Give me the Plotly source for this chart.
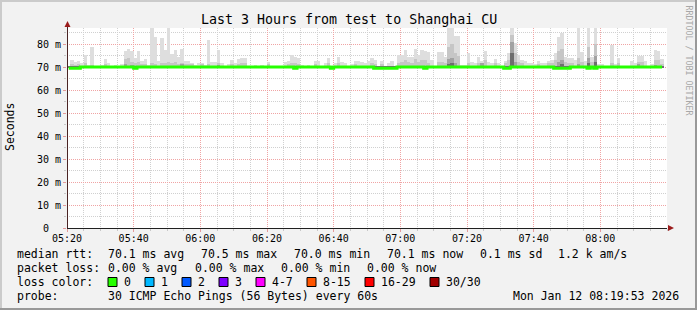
import plotly.graph_objects as go
import pandas as pd

# ---------------- data ----------------
title_text = "Last 3 Hours from test to Shanghai CU"
t_start = "2026-01-12 05:20:00"
t_end = "2026-01-12 08:20:00"
first_bin_center = "2026-01-12 05:20:30"
x_tick_values = ["2026-01-12 05:20", "2026-01-12 05:40", "2026-01-12 06:00", "2026-01-12 06:20",
                 "2026-01-12 06:40", "2026-01-12 07:00", "2026-01-12 07:20", "2026-01-12 07:40",
                 "2026-01-12 08:00"]
x_tick_labels = ["05:20", "05:40", "06:00", "06:20", "06:40", "07:00", "07:20", "07:40", "08:00"]

# median RTT per minute (ms)
median_rtt = [
    69.6, 69.6, 69.6, 69.6, 70.1, 70.1, 70.1, 70.1, 70.1, 70.1,
    70.1, 70.1, 70.1, 70.1, 70.1, 70.1, 70.1, 70.1, 70.1, 70.1,
    69.6, 70.1, 70.1, 70.1, 70.1, 70.1, 70.1, 70.1, 70.1, 70.1,
    70.1, 70.1, 70.1, 70.1, 70.1, 70.1, 70.1, 70.1, 70.1, 70.1,
    70.1, 70.1, 70.1, 70.1, 70.1, 70.1, 70.1, 70.1, 70.1, 70.1,
    70.1, 70.1, 70.1, 70.1, 70.1, 70.1, 70.1, 70.1, 70.1, 70.1,
    70.1, 70.1, 70.1, 70.1, 70.1, 70.1, 70.1, 70.1, 69.6, 70.1,
    70.1, 70.1, 70.1, 70.1, 70.1, 70.1, 70.1, 70.1, 70.1, 69.6,
    70.1, 70.1, 70.1, 70.1, 70.1, 70.1, 70.1, 70.1, 70.1, 70.1,
    70.1, 70.1, 69.6, 69.6, 69.6, 69.6, 69.6, 69.6, 69.6, 70.1,
    70.1, 70.1, 70.1, 70.1, 70.1, 70.1, 70.1, 69.6, 70.1, 70.1,
    70.1, 70.1, 70.1, 70.1, 70.1, 70.1, 70.1, 70.1, 70.1, 70.1,
    70.1, 70.1, 70.1, 70.1, 70.1, 70.1, 70.1, 70.1, 70.1, 70.1,
    70.1, 69.6, 69.6, 70.1, 70.1, 70.1, 70.1, 70.1, 70.1, 70.1,
    70.1, 70.1, 70.1, 70.1, 70.1, 70.1, 69.6, 69.6, 69.6, 69.6,
    69.6, 70.1, 70.1, 70.1, 70.1, 70.1, 69.6, 70.1, 69.6, 70.1,
    70.1, 70.1, 70.1, 70.1, 70.1, 70.1, 70.1, 70.1, 70.1, 70.1,
    70.1, 70.1, 70.1, 70.1, 70.1, 70.1, 70.1, 70.1, 70.1,
]

# smoke: highest ping per minute (ms)
smoke_max = [
    70.6, 73.2, 72.5, 72.8, 72.0, 75.4, 70.8, 78.8, 70.6, 70.6,
    70.8, 73.5, 71.7, 70.6, 71.0, 70.6, 71.5, 77.1, 78.0, 77.2,
    74.0, 77.2, 72.9, 73.5, 70.8, 88.0, 83.3, 72.7, 82.8, 77.5,
    88.0, 75.8, 77.5, 74.6, 78.0, 72.9, 72.8, 72.0, 71.0, 72.0,
    71.7, 70.8, 81.9, 72.5, 72.2, 77.5, 71.7, 70.6, 71.5, 73.2,
    71.7, 73.6, 74.0, 74.2, 70.6, 70.6, 71.0, 70.6, 71.0, 70.6,
    72.3, 70.6, 70.6, 70.6, 70.6, 72.5, 72.9, 75.4, 74.3, 74.2,
    71.0, 70.6, 71.0, 70.6, 72.8, 72.8, 70.6, 72.0, 74.1, 70.6,
    72.0, 74.6, 72.5, 71.7, 70.6, 71.3, 72.8, 72.8, 72.5, 72.0,
    72.8, 74.0, 73.2, 70.6, 72.8, 70.6, 72.0, 72.8, 70.6, 75.2,
    75.4, 77.5, 74.6, 74.3, 78.0, 75.4, 77.5, 77.2, 76.8, 73.2,
    70.6, 76.8, 76.8, 74.6, 88.0, 88.0, 83.6, 83.6, 71.0, 71.0,
    76.0, 72.5, 71.7, 74.3, 72.6, 77.0, 72.5, 71.7, 73.5, 71.7,
    70.6, 72.9, 76.0, 88.0, 80.4, 75.2, 73.2, 72.9, 71.7, 71.7,
    71.5, 72.8, 71.7, 72.0, 72.8, 73.2, 76.0, 83.3, 84.8, 74.6,
    73.9, 74.2, 73.2, 88.0, 76.8, 72.8, 88.0, 74.6, 88.0, 71.3,
    71.3, 70.6, 70.6, 79.7, 71.3, 73.9, 70.6, 70.6, 70.6, 72.8,
    71.7, 75.1, 75.1, 72.8, 70.6, 71.3, 77.5, 77.1, 73.5,
]

# smoke: upper quartile ping per minute (ms)
smoke_mid = [
    70.6, 71.5, 71.2, 71.5, 70.6, 71.8, 70.6, 71.2, 70.6, 70.6,
    70.6, 71.5, 70.6, 70.6, 70.6, 70.6, 70.6, 73.5, 74.0, 72.5,
    72.0, 72.5, 71.5, 71.5, 70.6, 72.0, 71.5, 70.6, 72.0, 71.8,
    72.5, 72.0, 72.5, 71.5, 72.0, 71.5, 71.5, 71.5, 70.6, 70.6,
    71.3, 70.6, 71.5, 70.6, 70.6, 71.8, 70.6, 70.6, 70.6, 71.5,
    70.6, 71.5, 72.0, 72.0, 70.6, 70.6, 70.6, 70.6, 70.6, 70.6,
    71.3, 70.6, 70.6, 70.6, 70.6, 70.6, 71.5, 72.0, 71.8, 71.5,
    70.6, 70.6, 70.6, 70.6, 71.5, 70.6, 70.6, 70.6, 71.8, 70.6,
    70.6, 71.8, 70.6, 70.6, 70.6, 70.6, 71.5, 70.6, 70.6, 70.6,
    70.6, 72.0, 71.5, 70.6, 71.5, 70.6, 70.6, 70.6, 70.6, 72.0,
    72.5, 73.0, 72.5, 72.0, 73.5, 72.5, 73.0, 73.0, 72.0, 70.6,
    70.6, 72.5, 72.5, 72.0, 79.0, 80.0, 76.0, 75.0, 70.6, 70.6,
    72.0, 70.6, 70.6, 72.0, 71.5, 73.0, 70.6, 70.6, 71.8, 70.6,
    70.6, 71.8, 73.0, 84.0, 76.0, 72.5, 71.8, 70.6, 70.6, 70.6,
    70.6, 71.5, 70.6, 70.6, 71.8, 72.0, 73.0, 77.0, 78.0, 72.5,
    72.0, 72.0, 70.6, 74.0, 72.5, 70.6, 79.0, 72.5, 80.0, 70.6,
    70.6, 70.6, 70.6, 72.0, 70.6, 72.0, 70.6, 70.6, 70.6, 70.6,
    70.6, 72.5, 72.5, 70.6, 70.6, 70.6, 73.0, 73.0, 71.5,
]

# smoke: darker inner band per minute (ms)
smoke_dark = [
    70.6, 70.6, 70.6, 70.6, 70.6, 70.6, 70.6, 70.6, 70.6, 70.6,
    70.6, 70.6, 70.6, 70.6, 70.6, 70.6, 70.6, 71.3, 70.6, 71.0,
    70.6, 70.6, 70.6, 70.6, 70.6, 70.6, 70.6, 70.6, 70.6, 70.6,
    70.6, 70.6, 70.6, 70.6, 71.5, 70.6, 70.6, 70.6, 70.6, 70.6,
    70.6, 70.6, 70.6, 70.6, 70.6, 71.2, 70.6, 70.6, 70.6, 70.6,
    70.6, 70.6, 70.6, 70.6, 70.6, 70.6, 70.6, 70.6, 70.6, 70.6,
    70.6, 70.6, 70.6, 70.6, 70.6, 70.6, 70.6, 70.6, 70.6, 70.6,
    70.6, 70.6, 70.6, 70.6, 70.6, 70.6, 70.6, 70.6, 70.6, 70.6,
    70.6, 70.6, 70.6, 70.6, 70.6, 70.6, 70.6, 70.6, 70.6, 70.6,
    70.6, 70.6, 70.6, 70.6, 70.6, 70.6, 70.6, 70.6, 70.6, 70.6,
    70.6, 70.6, 70.6, 70.6, 70.6, 70.6, 70.6, 70.6, 70.6, 70.6,
    70.6, 70.6, 70.6, 70.6, 73.5, 74.0, 72.0, 70.6, 70.6, 70.6,
    70.6, 70.6, 70.6, 70.6, 71.8, 70.6, 70.6, 70.6, 70.6, 70.6,
    70.6, 70.6, 70.6, 81.0, 72.5, 70.6, 70.6, 70.6, 70.6, 70.6,
    70.6, 70.6, 70.6, 70.6, 70.6, 70.6, 70.6, 72.5, 73.0, 70.6,
    70.6, 70.6, 70.6, 71.5, 70.6, 70.6, 74.0, 70.6, 75.0, 70.6,
    70.6, 70.6, 70.6, 70.6, 70.6, 70.6, 70.6, 70.6, 70.6, 70.6,
    70.6, 71.5, 70.6, 70.6, 70.6, 70.6, 71.2, 70.6, 70.6,
]

# smoke: darkest core band per minute (ms)
smoke_core = [
    70.6, 70.6, 70.6, 70.6, 70.6, 70.6, 70.6, 70.6, 70.6, 70.6,
    70.6, 70.6, 70.6, 70.6, 70.6, 70.6, 70.6, 70.6, 70.6, 70.6,
    70.6, 70.6, 70.6, 70.6, 70.6, 70.6, 70.6, 70.6, 70.6, 70.6,
    70.6, 70.6, 70.6, 70.6, 70.6, 70.6, 70.6, 70.6, 70.6, 70.6,
    70.6, 70.6, 70.6, 70.6, 70.6, 70.6, 70.6, 70.6, 70.6, 70.6,
    70.6, 70.6, 70.6, 70.6, 70.6, 70.6, 70.6, 70.6, 70.6, 70.6,
    70.6, 70.6, 70.6, 70.6, 70.6, 70.6, 70.6, 70.6, 70.6, 70.6,
    70.6, 70.6, 70.6, 70.6, 70.6, 70.6, 70.6, 70.6, 70.6, 70.6,
    70.6, 70.6, 70.6, 70.6, 70.6, 70.6, 70.6, 70.6, 70.6, 70.6,
    70.6, 70.6, 70.6, 70.6, 70.6, 70.6, 70.6, 70.6, 70.6, 70.6,
    70.6, 70.6, 70.6, 70.6, 70.6, 70.6, 70.6, 70.6, 70.6, 70.6,
    70.6, 70.6, 70.6, 70.6, 71.5, 72.0, 70.6, 70.6, 70.6, 70.6,
    70.6, 70.6, 70.6, 70.6, 70.6, 70.6, 70.6, 70.6, 70.6, 70.6,
    70.6, 70.6, 70.6, 76.0, 70.6, 70.6, 70.6, 70.6, 70.6, 70.6,
    70.6, 70.6, 70.6, 70.6, 70.6, 70.6, 70.6, 70.6, 71.5, 70.6,
    70.6, 70.6, 70.6, 70.6, 70.6, 70.6, 72.0, 70.6, 72.5, 70.6,
    70.6, 70.6, 70.6, 70.6, 70.6, 70.6, 70.6, 70.6, 70.6, 70.6,
    70.6, 70.6, 70.6, 70.6, 70.6, 70.6, 70.6, 70.6, 70.6,
]

y_tick_values = [0, 10, 20, 30, 40, 50, 60, 70, 80]
y_tick_labels = ["0\u00a0\u00a0", "10 m", "20 m", "30 m", "40 m", "50 m", "60 m", "70 m", "80 m"]

legend_line1 = ["median rtt:", "70.1 ms avg", "70.5 ms max", "70.0 ms min", "70.1 ms now", "0.1 ms sd", "1.2 k am/s"]
legend_line2 = ["packet loss:", "0.00 % avg", "0.00 % max", "0.00 % min", "0.00 % now"]
loss_labels = ["0", "1", "2", "3", "4-7", "8-15", "16-29", "30/30"]
loss_colors = ["#26ff00", "#00b8ff", "#0059ff", "#7e00ff", "#ff00ff", "#ff5500", "#ff0000", "#a10000"]
probe_label = "probe:"
probe_text = "30 ICMP Echo Pings (56 Bytes) every 60s"
timestamp_text = "Mon Jan 12 08:19:53 2026"
side_text = "RRDTOOL / TOBI OETIKER"
y_title = "Seconds"

# ---------------- layout geometry ----------------
W, H = 697, 310
L, R, T, B = 67, 667, 28, 228
MONO = "DejaVu Sans Mono"


def px(x):
    return (x - L) / (R - L)


def py(y):
    return (B - y) / (B - T)


times = pd.date_range(first_bin_center, periods=len(median_rtt), freq="min")

fig = go.Figure()

smoke_layers = [
    (smoke_max, "#dedede"),
    (smoke_mid, "#c6c6c6"),
    (smoke_dark, "#a2a2a2"),
    (smoke_core, "#6e6e6e"),
]
for vals, col in smoke_layers:
    fig.add_trace(go.Bar(
        x=times,
        y=[v - m for v, m in zip(vals, median_rtt)],
        base=median_rtt,
        marker=dict(color=col, line=dict(width=0)),
        hoverinfo="skip",
        showlegend=False,
    ))

fig.add_trace(go.Scatter(
    x=times, y=median_rtt, mode="lines",
    line=dict(color="#26ff00", width=3, shape="hvh"),
    hoverinfo="skip", showlegend=False,
))

# ---------------- annotations ----------------
ann = []
ann.append(dict(text=title_text, x=px(348.5), y=py(19.5), xanchor="center", yanchor="middle",
                font=dict(family=MONO, size=13.3, color="black")))
ann.append(dict(text=y_title, x=px(10), y=py(127), xanchor="center", yanchor="middle", textangle=-90,
                font=dict(family=MONO, size=11.5, color="black")))
ann.append(dict(text=side_text, x=px(688.5), y=py(60), xanchor="center", yanchor="middle", textangle=90,
                font=dict(family=MONO, size=8.3, color="#a8a8a8")))

line1_x = [16, 107, 200, 293, 386, 479, 557]
for txt, xx in zip(legend_line1, line1_x):
    ann.append(dict(text=txt, x=px(xx - 1), y=py(254), xanchor="left", yanchor="middle",
                    font=dict(family=MONO, size=11.5, color="black")))
line2_x = [16, 107, 193.5, 280, 366]
for txt, xx in zip(legend_line2, line2_x):
    ann.append(dict(text=txt, x=px(xx - 1), y=py(268), xanchor="left", yanchor="middle",
                    font=dict(family=MONO, size=11.5, color="black")))
ann.append(dict(text="loss color:", x=px(15), y=py(282), xanchor="left", yanchor="middle",
                font=dict(family=MONO, size=11.5, color="black")))

box_x = [108, 145, 182, 219, 256, 307, 365, 430]
shapes = []
for lab, col, bx in zip(loss_labels, loss_colors, box_x):
    shapes.append(dict(type="rect", xref="paper", yref="paper",
                       x0=px(bx), x1=px(bx + 9), y0=py(277.5), y1=py(286.5),
                       fillcolor=col, line=dict(color="black", width=1)))
    ann.append(dict(text=lab, x=px(bx + 14), y=py(282), xanchor="left", yanchor="middle",
                    font=dict(family=MONO, size=11.5, color="black")))

ann.append(dict(text=probe_label, x=px(15), y=py(296), xanchor="left", yanchor="middle",
                font=dict(family=MONO, size=11.5, color="black")))
ann.append(dict(text=probe_text, x=px(106), y=py(296), xanchor="left", yanchor="middle",
                font=dict(family=MONO, size=11.5, color="black")))
ann.append(dict(text=timestamp_text, x=px(681), y=py(296), xanchor="right", yanchor="middle",
                font=dict(family=MONO, size=11.5, color="black")))

for a in ann:
    a.update(xref="paper", yref="paper", showarrow=False)

# frame (3D bevel)
shapes += [
    dict(type="rect", xref="paper", yref="paper", x0=px(0), x1=px(W), y0=py(0), y1=py(2),
         fillcolor="#cbcbcb", line=dict(width=0)),
    dict(type="rect", xref="paper", yref="paper", x0=px(0), x1=px(2), y0=py(0), y1=py(H),
         fillcolor="#cbcbcb", line=dict(width=0)),
    dict(type="rect", xref="paper", yref="paper", x0=px(0), x1=px(W), y0=py(H - 2), y1=py(H),
         fillcolor="#999999", line=dict(width=0)),
    dict(type="rect", xref="paper", yref="paper", x0=px(W - 2), x1=px(W), y0=py(0), y1=py(H),
         fillcolor="#999999", line=dict(width=0)),
]
# left axis line + arrows
shapes += [
    dict(type="line", xref="paper", yref="paper", x0=px(67.5), x1=px(67.5), y0=py(228), y1=py(25),
         line=dict(color="#4a2424", width=1)),
    dict(type="path", xref="paper", yref="paper",
         path=f"M {px(64.5)} {py(27)} L {px(70.5)} {py(27)} L {px(67.5)} {py(21)} Z",
         fillcolor="#9b1c1c", line=dict(width=0)),
    dict(type="path", xref="paper", yref="paper",
         path=f"M {px(668)} {py(225)} L {px(668)} {py(231)} L {px(674)} {py(228)} Z",
         fillcolor="#9b1c1c", line=dict(width=0)),
]

fig.update_layout(
    width=W, height=H,
    margin=dict(l=L, r=W - R, t=T, b=H - B, pad=0),
    paper_bgcolor="#f2f2f2",
    plot_bgcolor="white",
    barmode="overlay",
    bargap=0,
    showlegend=False,
    annotations=ann,
    shapes=shapes,
    xaxis=dict(
        type="date", range=[t_start, t_end],
        tickmode="array", tickvals=x_tick_values, ticktext=x_tick_labels,
        showgrid=True, gridcolor="#f0a4a4", griddash="1px,1px", gridwidth=1,
        ticks="outside", ticklen=3, tickcolor="#e49a9a", ticklabelstandoff=-2,
        minor=dict(dtick=5 * 60 * 1000, tick0=t_start, showgrid=True, gridcolor="#d0d0d0",
                   griddash="1px,1px", ticks="outside", ticklen=2, tickcolor="#c8c8c8"),
        showline=True, linecolor="#202020", linewidth=1, zeroline=False,
        tickfont=dict(family=MONO, size=10, color="black"), fixedrange=True,
    ),
    yaxis=dict(
        range=[0, 87.1], tickvals=y_tick_values, ticktext=y_tick_labels,
        showgrid=True, gridcolor="#f0a4a4", griddash="1px,1px", gridwidth=1,
        ticks="outside", ticklen=3, tickcolor="#e49a9a",
        minor=dict(dtick=5, tick0=0, showgrid=True, gridcolor="#d0d0d0", griddash="1px,1px",
                   ticks="outside", ticklen=2, tickcolor="#c8c8c8"),
        showline=False, zeroline=False,
        tickfont=dict(family=MONO, size=10, color="black"), fixedrange=True,
    ),
)

fig.write_html("out.html")
